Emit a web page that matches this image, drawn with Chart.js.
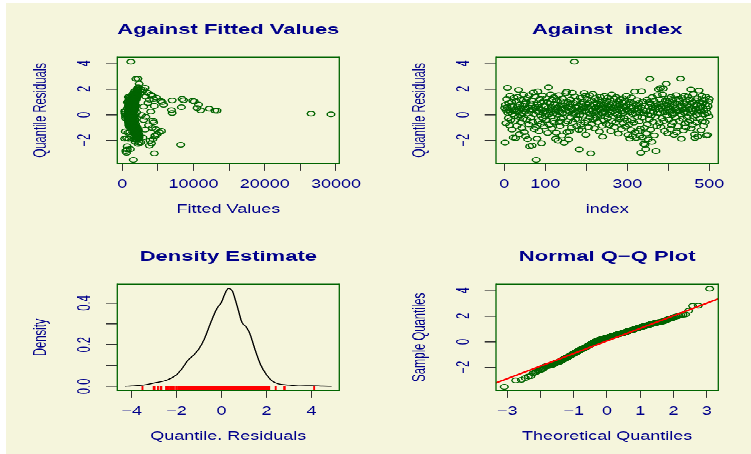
<!DOCTYPE html>
<html>
<head>
<meta charset="utf-8">
<script src="https://cdn.jsdelivr.net/npm/chart.js@4.4.1/dist/chart.umd.min.js"></script>
<style>
  html, body { margin: 0; padding: 0; background: #fff; overflow: hidden; }
  #bg { position: absolute; left: 6px; top: 3px; width: 745px; height: 451px; background: #f5f5dc; }
  /* panels are laid out on a taller sheet and flattened to the page height */
  #sheet { position: absolute; left: 0; top: 0; width: 751px; height: 726px; transform: scaleY(0.6253); transform-origin: 0 0; }
  #sheet canvas { position: absolute; }
</style>
</head>
<body>
<div id="bg"></div>
<div id="sheet">
  <canvas id="fitted" width="375" height="363" style="left:0;top:0"></canvas>
  <canvas id="byIndex" width="376" height="363" style="left:375px;top:0"></canvas>
  <canvas id="density" width="375" height="363" style="left:0;top:363px"></canvas>
  <canvas id="qq" width="376" height="363" style="left:375px;top:363px"></canvas>
</div>
<script>
// quantile residuals, in observation order (index 1..500)
const residuals = [
  0.52, -2.18, 0.77, -0.66, 0.34, 1.21, 0.58, 2.09, 0.13, -0.27, 0.91, 0.36, -0.83, 1.47, 0.19, -0.42, 0.71, 0.98, -1.16, 0.03, 0.62, -1.79, 0.27, 1.32, -0.08,
  -0.47, 0.41, -1.83, 1.08, 0.24, -0.87, 0.63, 1.38, -0.18, 1.93, 0.29, -1.52, 0.81, -0.02, -0.61, 0.49, 1.17, -1.04, 0.12, 0.68, -0.33, 1.56, 0.44, -1.37, 0.86,
  0.21, -1.68, 1.02, 0.47, -0.38, 1.29, -1.91, 0.57, 0.08, -0.76, 1.52, -2.47, 0.32, 0.88, -0.23, 0.72, 1.11, -2.41, -0.57, 0.39, 1.72, 0.04, -1.13, 0.53, 1.41,
  -0.97, 0.59, -3.52, 0.31, -1.87, 0.79, 1.81, -0.52, 0.18, -1.28, 0.46, 1.23, -0.04, -0.72, 0.93, -2.23, 0.37, 1.49, -0.28, 0.14, 1.03, -0.92, 0.64, 0.26, -0.12,
  0.69, 1.27, -0.41, 0.22, 0.97, -1.43, 0.51, 2.12, 0.02, -0.79, 0.87, 0.33, 1.58, -0.17, 0.61, -1.08, 1.19, 0.42, -0.48, 0.09, 1.36, -0.63, 0.82, 0.23, -1.88,
  0.38, -1.41, 1.13, 0.01, 0.57, -2.02, 0.28, 1.53, -0.59, 0.17, -0.88, 0.76, 1.04, -0.31, 0.48, -1.62, 1.26, 0.11, -0.22, 0.73, -2.19, 0.89, 0.43, -0.68, 1.67,
  0.32, 1.78, -1.37, 0.56, -0.53, 0.96, -1.93, 0.24, -1.31, 0.83, -0.19, 1.18, 0.47, -1.02, 0.06, 1.71, 0.37, -0.57, 0.92, 0.07, 4.12, 1.42, 0.61, -0.36, 0.18,
  0.54, -0.91, 1.09, 0.27, -0.32, 0.68, -1.18, -2.71, -0.03, 1.31, 0.42, -0.77, 0.86, 0.21, -1.23, 0.63, 1.01, -0.07, 0.49, 1.69, -0.62, 0.33, 1.48, -1.57, 0.78,
  0.19, 1.22, -0.46, 0.59, 0.91, -0.98, 0.43, 1.51, -0.21, 0.04, -3.02, 0.66, 1.12, -0.71, 0.28, 1.62, -0.39, 0.81, 0.14, -1.07, 0.52, 1.28, -0.26, 0.58, 0.23,
  0.87, 0.31, -0.58, 1.17, 0.46, -0.01, -1.32, 0.73, 1.39, -0.16, 0.38, 0.99, 0.12, -0.86, -1.72, 0.57, 0.79, -0.43, 1.46, 0.16, -0.11, 0.92, 0.54, -0.73, 1.07,
  0.42, -0.27, 1.33, 0.69, 0.02, -0.81, 0.48, 1.12, 0.19, -1.27, 0.62, 1.57, -0.52, 0.27, 0.88, -0.09, 0.53, 1.24, -0.97, 0.11, 0.74, -0.61, 1.37, 0.34, 0.83,
  -0.02, 0.57, -1.48, 1.03, 0.39, -0.37, 0.77, 1.21, -0.24, 0.48, -1.12, 0.26, 0.94, 1.28, -0.66, 0.13, 0.61, -0.29, 1.08, 0.22, -0.93, 0.67, 1.47, 0.41, -0.47,
  0.29, -1.58, 0.82, -0.78, 0.96, -1.87, 0.17, 0.63, -1.19, 1.34, -0.42, 0.51, -1.68, 0.03, 0.89, -0.63, 0.37, 1.79, -1.38, 0.08, 0.72, -1.82, 0.31, 1.14, -0.18,
  0.47, -1.27, 0.91, -0.52, 0.18, -1.63, -1.09, -2.98, 0.57, 1.82, -0.23, -1.78, 1.02, 0.37, -2.27, 0.12, -1.03, -2.34, 0.68, -2.68, 0.27, -1.47, 1.17, -0.74, 0.02,
  -1.92, 0.62, 0.97, -0.37, 2.79, 0.28, -1.17, 0.82, -0.04, -2.12, 1.37, 0.53, -0.57, 0.21, 1.08, -1.61, 0.69, -0.18, 0.43, -2.83, 0.88, -0.89, 1.52, 0.09, 0.58,
  1.98, 0.44, -0.67, 1.18, 0.13, 2.07, -0.96, 0.61, 0.87, -0.28, 1.58, 0.32, 2.03, -0.49, 0.71, -1.27, 0.18, 1.09, 0.52, 2.41, -0.06, 0.79, -1.46, 0.37, 1.27,
  0.58, -0.38, 1.04, 0.19, -1.12, 0.47, 1.38, -0.82, 0.31, -0.01, 1.16, -0.59, 0.73, -1.57, 0.07, 0.92, -0.21, 0.49, 1.53, -1.38, 0.36, 0.84, -0.91, 0.24, 1.22,
  0.27, -0.48, 1.07, 0.63, 2.81, 0.04, -1.88, 0.68, 1.29, -0.32, 0.41, -1.22, 0.87, 0.14, 1.48, -0.69, 0.54, -0.99, 1.02, 0.17, -0.19, 0.77, 1.41, -0.58, 0.39,
  0.61, 1.19, -0.42, 0.08, 1.97, -1.07, 0.47, 0.93, -0.78, 0.28, 1.61, -0.17, 0.67, -1.53, -1.82, 0.43, 1.13, -0.03, -0.62, 0.79, 1.27, -1.71, 0.22, 0.51, 1.88,
  0.36, -0.31, 0.98, 0.72, -1.21, 0.23, 1.47, -0.54, 0.59, 0.91, -0.87, 0.29, 1.16, 0.03, -0.58, 0.82, 1.39, -1.62, 0.48, 0.12, -1.58, 0.66, 1.01, -0.13, 1.23
];

// fitted values for the same observations
const fittedValues = [
  10500, 2600, 5800, 940, 11000, 4400, 8300, 3200, 7000, 1260, 3600, 6900, 3700, 4200, 1480, 3000, 880, 5600, 3200, 29300, 3000, 2900, 1150, 4800, 720,
  4300, 1320, 610, 5400, 4000, 1050, 1780, 860, 3300, 3000, 1420, 4900, 980, 2700, 4400, 1210, 3800, 4200, 760, 4500, 1530, 4000, 1090, 5200, 1670,
  1180, 4600, 1390, 12200, 820, 1610, 4300, 1040, 26500, 1350, 1960, 690, 13000, 1270, 930, 1820, 7000, 3800, 1140, 1560, 3500, 870, 4700, 1230, 3300,
  1080, 1450, 1550, 13300, 330, 10700, 1720, 960, 1310, 5500, 1170, 8400, 790, 1640, 1020, 4100, 1380, 2050, 910, 1260, 10100, 1110, 1490, 840, 1720,
  1240, 1870, 980, 1360, 720, 1590, 1130, 2240, 890, 1420, 1010, 1680, 2110, 830, 1290, 1540, 960, 1750, 1180, 380, 2030, 1320, 1060, 1460, 910,
  1380, 780, 8600, 1150, 1620, 3900, 1040, 2260, 1270, 940, 1510, 1830, 1090, 1350, 700, 4600, 1960, 1220, 860, 1440, 2380, 1170, 1600, 990, 2150,
  1310, 2800, 1050, 1690, 880, 1420, 2090, 1160, 420, 1570, 1280, 1930, 1010, 1370, 820, 1740, 1200, 960, 1510, 1140, 1200, 1650, 1080, 1330, 2010,
  1190, 1460, 9900, 870, 1550, 1290, 2170, 700, 1380, 1020, 1760, 930, 1480, 1140, 2230, 1250, 810, 1610, 1070, 1890, 1360, 990, 1530, 2300, 1180,
  1420, 1060, 1790, 890, 1330, 2060, 1150, 1580, 760, 1270, 4500, 1390, 1020, 1860, 1210, 1470, 940, 1650, 1100, 2120, 1300, 1710, 850, 1490, 1230,
  1560, 1040, 1370, 1920, 1150, 880, 2180, 1290, 1640, 1010, 1450, 1780, 1190, 950, 2340, 1330, 1580, 1070, 1860, 1260, 450, 1520, 1380, 1690, 1120,
  1270, 1610, 980, 1440, 1830, 1120, 1350, 1720, 1060, 2250, 1480, 1900, 1190, 350, 1560, 1340, 1030, 1670, 2020, 1210, 1450, 940, 1790, 1280, 1130,
  1400, 1090, 2290, 1530, 1250, 1760, 960, 1620, 1310, 1180, 2080, 1470, 1040, 1840, 1370, 1150, 1590, 480, 1730, 1220, 1960, 1440, 1660, 1100, 1320,
  1190, 2130, 1480, 1070, 1700, 2270, 1260, 1530, 1940, 1340, 980, 1610, 2200, 1150, 1420, 1050, 1760, 2150, 1890, 1230, 1510, 2320, 1090, 1640, 1370,
  1280, 1850, 1110, 1560, 1340, 2060, 1720, 600, 1430, 2090, 1180, 1940, 1500, 1020, 2210, 1360, 1680, 8200, 1250, 1140, 1590, 2010, 1300, 1460, 1080,
  1620, 1170, 1390, 1050, 1900, 1480, 1760, 1230, 990, 1820, 1540, 1310, 1660, 1090, 1410, 1970, 1270, 1520, 1130, 500, 1350, 1700, 1460, 1210, 1580,
  2600, 1240, 1510, 1390, 1080, 2230, 1620, 1150, 1470, 1300, 1880, 1020, 2140, 1360, 1590, 1730, 1110, 1440, 1270, 2370, 1560, 1190, 1650, 1330, 1780,
  1410, 1190, 1630, 960, 1720, 1280, 1540, 1350, 1070, 1480, 1810, 1230, 1600, 1950, 1140, 1430, 1020, 1570, 1740, 1660, 1290, 1510, 1380, 410, 1690,
  1250, 1470, 1620, 1110, 2200, 1390, 1840, 1530, 1780, 1170, 1440, 1690, 1310, 1060, 1590, 1400, 1220, 1750, 1480, 1130, 1360, 1570, 1820, 1240, 1450,
  1330, 1710, 1150, 1490, 2060, 1620, 1270, 1540, 1380, 1090, 1860, 1230, 1470, 1760, 2080, 1320, 1650, 1190, 1430, 1580, 1800, 1990, 1260, 1510, 2150,
  1370, 1120, 1600, 1450, 1790, 1280, 1930, 1340, 1500, 1670, 1210, 1420, 1750, 1160, 1390, 1560, 1840, 2020, 1300, 1480, 2110, 1640, 1260, 1410, 1720
];

// kernel density estimate of the residuals
const densityX = [-4.3, -4.0, -3.5, -3.0, -2.45, -2.0, -1.76, -1.5, -1.25, -1.0, -0.76, -0.5, -0.21, 0.0, 0.15, 0.3, 0.42, 0.5, 0.6, 0.75, 0.9, 1.1, 1.25, 1.5, 1.75, 2.0, 2.25, 2.5, 3.0, 3.5, 4.0, 4.5, 4.9];
const densityY = [0.000, 0.002, 0.006, 0.016, 0.029, 0.056, 0.085, 0.125, 0.149, 0.181, 0.229, 0.301, 0.373, 0.405, 0.445, 0.47, 0.466, 0.453, 0.42, 0.365, 0.309, 0.285, 0.256, 0.173, 0.101, 0.056, 0.026, 0.013, 0.006, 0.002, 0.003, 0.001, 0.000];

// reference line through the quartiles
const qqSlope = 0.98;
const qqIntercept = 0.06;

const fittedTicks = [0, 5000, 10000, 15000, 20000, 25000, 30000];
const fittedTickLabels = ['0', '', '10000', '', '20000', '', '30000'];
const indexTicks = [0, 100, 200, 300, 400, 500];
const indexTickLabels = ['0', '100', '', '300', '', '500'];
const residualTicks = [-2, 0, 2, 4];
const residualTickLabels = ['\u22122', '0', '2', '4'];
const densityXTicks = [-4, -2, 0, 2, 4];
const densityXTickLabels = ['\u22124', '\u22122', '0', '2', '4'];
const densityYTicks = [0, 0.1, 0.2, 0.3, 0.4];
const densityYTickLabels = ['0.0', '', '0.2', '', '0.4'];
const theoreticalTicks = [-3, -2, -1, 0, 1, 2, 3];
const theoreticalTickLabels = ['\u22123', '', '\u22121', '0', '1', '2', '3'];

const FONT = '"Liberation Sans", Arial, sans-serif';
const NAVY = '#00008B';
const GREEN = '#006400';

// inverse normal CDF (Acklam)
function qnorm(p) {
  const a = [-39.69683028665376, 220.9460984245205, -275.9285104469687, 138.3577518672690, -30.66479806614716, 2.506628277459239];
  const b = [-54.47609879822406, 161.5858368580409, -155.6989798598866, 66.80131188771972, -13.28068155288572];
  const c = [-0.007784894002430293, -0.3223964580411365, -2.400758277161838, -2.549732539343734, 4.374664141464968, 2.938163982698783];
  const d = [0.007784695709041462, 0.3224671290700398, 2.445134137142996, 3.754408661907416];
  const tail = q => (((((c[0] * q + c[1]) * q + c[2]) * q + c[3]) * q + c[4]) * q + c[5]) / ((((d[0] * q + d[1]) * q + d[2]) * q + d[3]) * q + 1);
  if (p < 0.02425) return tail(Math.sqrt(-2 * Math.log(p)));
  if (p > 0.97575) return -tail(Math.sqrt(-2 * Math.log(1 - p)));
  const q = p - 0.5, r = q * q;
  return (((((a[0] * r + a[1]) * r + a[2]) * r + a[3]) * r + a[4]) * r + a[5]) * q /
         (((((b[0] * r + b[1]) * r + b[2]) * r + b[3]) * r + b[4]) * r + 1);
}

// green box round the plot region, and rotated y tick labels
const panelFrame = {
  id: 'panelFrame',
  afterDatasetsDraw(chart) {
    const { ctx, chartArea: a } = chart;
    ctx.save();
    ctx.strokeStyle = GREEN;
    ctx.lineWidth = 2;
    ctx.beginPath();
    ctx.moveTo(a.left, a.top); ctx.lineTo(a.right, a.top);
    ctx.moveTo(a.left, a.bottom); ctx.lineTo(a.right, a.bottom);
    ctx.stroke();
    ctx.lineWidth = 1.3;
    ctx.beginPath();
    ctx.moveTo(a.left, a.top - 1); ctx.lineTo(a.left, a.bottom + 1);
    ctx.moveTo(a.right, a.top - 1); ctx.lineTo(a.right, a.bottom + 1);
    ctx.stroke();
    ctx.restore();
  },
  afterDraw(chart, args, opts) {
    const { ctx, chartArea: a } = chart;
    const ys = chart.scales.y;
    ctx.save();
    ctx.font = '18px ' + FONT;
    ctx.fillStyle = NAVY;
    ctx.textAlign = 'center';
    ctx.textBaseline = 'middle';
    ys.ticks.forEach((t, i) => {
      const label = opts.labels[i];
      if (!label) return;
      ctx.save();
      ctx.translate(a.left - 32, ys.getPixelForValue(t.value));
      ctx.rotate(-Math.PI / 2);
      ctx.fillText(label, 0, 0);
      ctx.restore();
    });
    ctx.restore();
  }
};

function panel(id, cfg) {
  const canvas = document.getElementById(id);
  const textFont = { family: FONT, size: 18 };
  return new Chart(canvas, {
    type: 'scatter',
    data: { datasets: cfg.datasets },
    options: {
      responsive: false,
      animation: false,
      devicePixelRatio: 1,
      events: [],
      layout: { padding: { left: cfg.plotLeft - 86.9, right: canvas.width - cfg.plotRight, top: 0, bottom: 13.5 } },
      plugins: {
        legend: { display: false },
        tooltip: { enabled: false },
        title: {
          display: true, text: cfg.title, fullSize: false, color: NAVY,
          font: { family: FONT, size: 22, weight: 'bold' },
          padding: { top: 35.2, bottom: 30 }
        },
        panelFrame: { labels: cfg.yLabels }
      },
      scales: {
        x: {
          type: 'linear', bounds: 'data', min: cfg.xRange[0], max: cfg.xRange[1],
          afterBuildTicks: s => { s.ticks = cfg.xTicks.map(v => ({ value: v })); },
          afterFit: s => { s.height = 88.3; },
          border: { display: false },
          grid: { display: true, drawOnChartArea: false, drawTicks: true, tickLength: 11.7, tickColor: '#333', lineWidth: 1 },
          ticks: { autoSkip: false, maxRotation: 0, padding: 11.6, color: NAVY, font: textFont, callback: (v, i) => cfg.xLabels[i] },
          title: { display: true, text: cfg.xTitle, color: NAVY, font: textFont, padding: { top: 0, bottom: 4 } }
        },
        y: {
          type: 'linear', bounds: 'data', min: cfg.yRange[0], max: cfg.yRange[1],
          afterBuildTicks: s => { s.ticks = cfg.yTicks.map(v => ({ value: v })); },
          afterFit: s => { s.width = 86.9; },
          border: { display: false },
          grid: { display: true, drawOnChartArea: false, drawTicks: true, tickLength: 11.3, tickColor: '#333', lineWidth: 1.6 },
          ticks: { display: false },
          title: { display: true, text: cfg.yTitle, color: NAVY, font: textFont, padding: { top: 0, bottom: 0 } }
        }
      }
    },
    plugins: [panelFrame]
  });
}

const circles = {
  pointStyle: 'circle', pointRadius: 3.8, pointBorderWidth: 1.5,
  borderColor: GREEN, pointBorderColor: GREEN, backgroundColor: 'rgba(0,0,0,0)', pointBackgroundColor: 'rgba(0,0,0,0)'
};
const residualRange = [-3.79, 4.47];

panel('fitted', {
  title: 'Against Fitted Values', xTitle: 'Fitted Values', yTitle: 'Quantile Residuals',
  plotLeft: 117.3, plotRight: 339.3,
  xRange: [-700, 30470], xTicks: fittedTicks, xLabels: fittedTickLabels,
  yRange: residualRange, yTicks: residualTicks, yLabels: residualTickLabels,
  datasets: [{ data: residuals.map((r, i) => ({ x: fittedValues[i], y: r })), ...circles }]
});

panel('byIndex', {
  title: 'Against  index', xTitle: 'index', yTitle: 'Quantile Residuals',
  plotLeft: 121, plotRight: 343.3,
  xRange: [-20, 522], xTicks: indexTicks, xLabels: indexTickLabels,
  yRange: residualRange, yTicks: residualTicks, yLabels: residualTickLabels,
  datasets: [{ data: residuals.map((r, i) => ({ x: i + 1, y: r })), ...circles }]
});

panel('density', {
  title: 'Density Estimate', xTitle: 'Quantile. Residuals', yTitle: 'Density',
  plotLeft: 117.3, plotRight: 339.3,
  xRange: [-4.64, 5.24], xTicks: densityXTicks, xLabels: densityXTickLabels,
  yRange: [-0.019, 0.49], yTicks: densityYTicks, yLabels: densityYTickLabels,
  datasets: [
    {
      type: 'line', data: densityX.map((x, i) => ({ x, y: densityY[i] })),
      borderColor: '#000', borderWidth: 1.4, pointRadius: 0, cubicInterpolationMode: 'monotone'
    },
    {
      // rug of the residuals along the bottom edge
      data: residuals.map(r => ({ x: r, y: -0.0092 })),
      pointStyle: 'line', rotation: 90, pointRadius: 3.6, pointBorderWidth: 1.9,
      pointBorderColor: '#ff0000', borderColor: '#ff0000'
    }
  ]
});

const sortedResiduals = residuals.slice().sort((p, q) => p - q);
const lineEnds = [-3.6, 3.6];
panel('qq', {
  title: 'Normal Q\u2212Q Plot', xTitle: 'Theoretical Quantiles', yTitle: 'Sample Quantiles',
  plotLeft: 121, plotRight: 343.3,
  xRange: [-3.34, 3.35], xTicks: theoreticalTicks, xLabels: theoreticalTickLabels,
  yRange: residualRange, yTicks: residualTicks, yLabels: residualTickLabels,
  datasets: [
    {
      type: 'line', data: lineEnds.map(x => ({ x, y: qqIntercept + qqSlope * x })),
      borderColor: '#ff0000', borderWidth: 2.4, pointRadius: 0
    },
    {
      data: sortedResiduals.map((r, i) => ({ x: qnorm((i + 0.5) / sortedResiduals.length), y: r })),
      ...circles
    }
  ]
});
</script>
</body>
</html>
